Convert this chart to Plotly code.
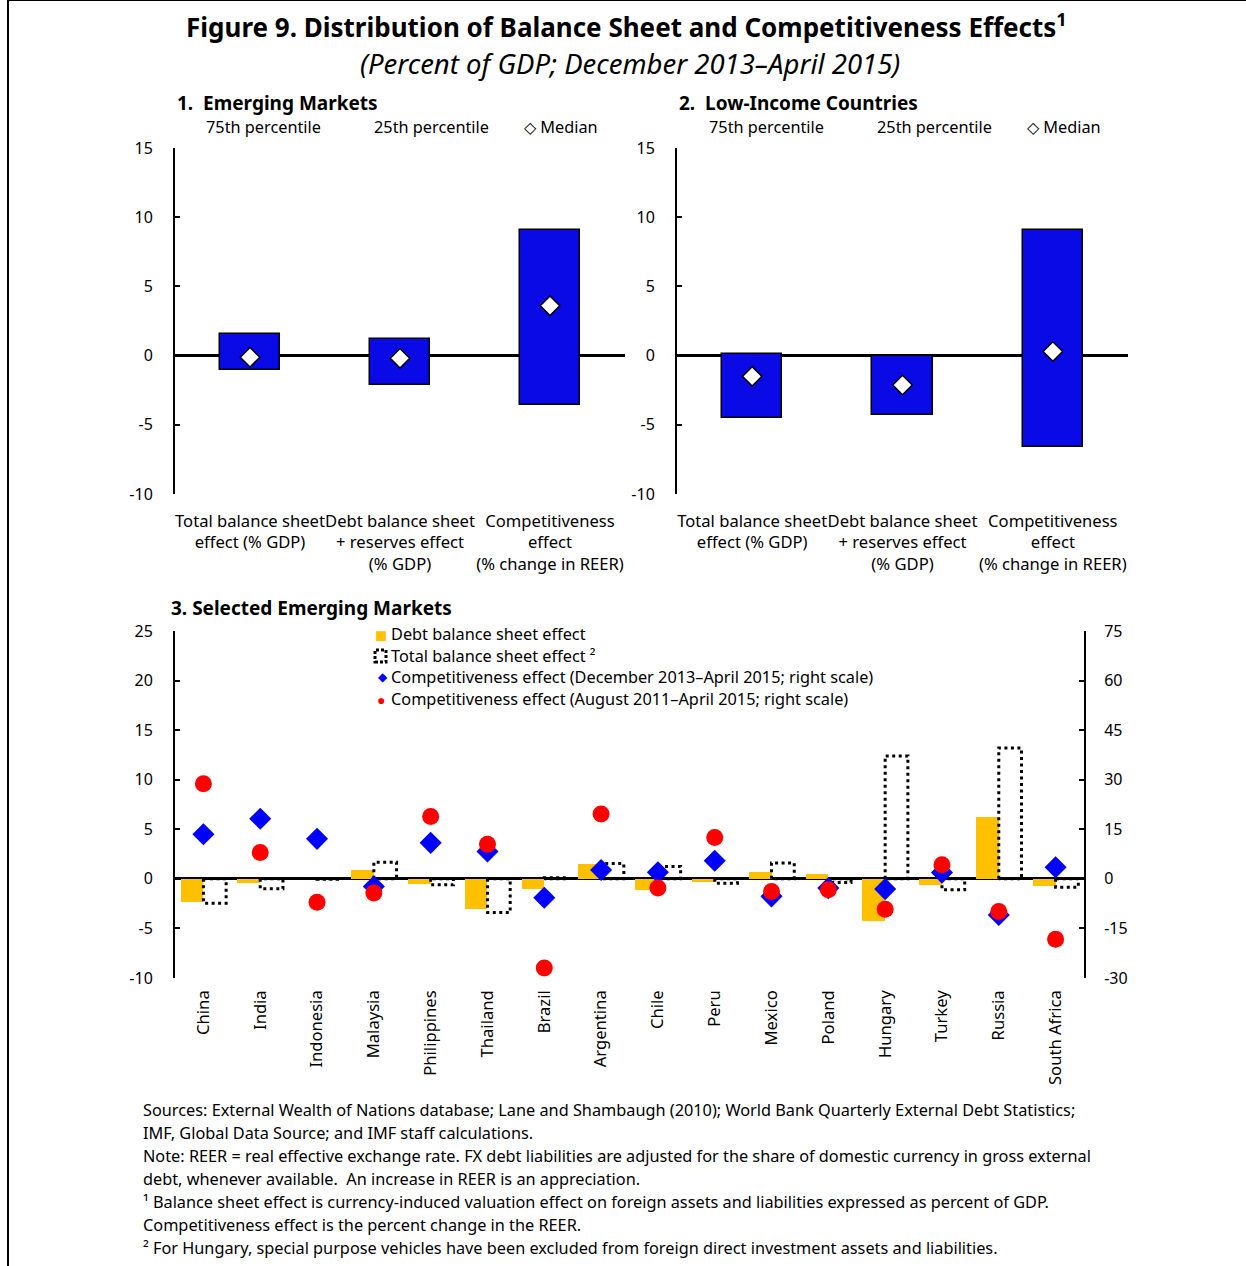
import plotly.graph_objects as go

W_PX, H_PX = 1246, 1266

# ---------------- data ----------------
top_categories = ["Total balance sheet<br>effect (% GDP)",
                  "Debt balance sheet<br>+ reserves effect<br>(% GDP)",
                  "Competitiveness<br>effect<br>(% change in REER)"]
em_p75 = [1.57, 1.23, 9.05]
em_p25 = [-1.03, -2.12, -3.59]
em_median = [-0.12, -0.19, 3.6]
lic_p75 = [0.12, 0.0, 9.05]
lic_p25 = [-4.53, -4.27, -6.6]
lic_median = [-1.5, -2.12, 0.3]
top_ticks = [-10, -5, 0, 5, 10, 15]

countries = ["China", "India", "Indonesia", "Malaysia", "Philippines", "Thailand", "Brazil",
             "Argentina", "Chile", "Peru", "Mexico", "Poland", "Hungary", "Turkey", "Russia",
             "South Africa"]
debt_effect = [-2.3, -0.37, 0.0, 0.87, -0.54, -3.0, -1.04, 1.48, -1.17, -0.27, 0.74, 0.5,
               -4.24, -0.6, 6.29, -0.7]
total_effect = [-2.45, -1.0, -0.05, 1.68, -0.6, -3.4, 0.1, 1.55, 1.25, -0.44, 1.61, -0.37,
                12.4, -1.1, 13.2, -0.84]
comp_dec13 = [13.5, 18.2, 12.1, -2.3, 10.9, 8.3, -5.7, 2.7, 2.0, 5.5, -5.3, -2.8, -3.1, 1.9,
              -10.9, 3.5]
comp_aug11 = [28.8, 8.0, -7.1, -4.3, 18.9, 10.5, -27.0, 19.6, -2.8, 12.5, -3.8, -3.3, -9.2,
              4.3, -9.9, -18.3]
left_ticks = [-10, -5, 0, 5, 10, 15, 20, 25]
right_ticks = [-30, -15, 0, 15, 30, 45, 60, 75]

FONT = "Noto Sans"
BLUE_BAR = "#0A0AE6"


def px_x(p):
    return p / W_PX


def px_y(p):
    return 1 - p / H_PX


def lbl(v):
    return str(v)


fig = go.Figure()

# ---------------- panels 1 & 2 ----------------
for k, (p75, p25, med) in enumerate([(em_p75, em_p25, em_median), (lic_p75, lic_p25, lic_median)]):
    xa = "x" if k == 0 else "x2"
    ya = "y" if k == 0 else "y2"
    fig.add_trace(go.Bar(x=top_categories, y=[a - b for a, b in zip(p75, p25)], base=p25,
                         width=0.4, marker=dict(color=BLUE_BAR, line=dict(color="black", width=1.5)),
                         xaxis=xa, yaxis=ya, showlegend=False))
    fig.add_trace(go.Scatter(x=top_categories, y=med, mode="markers",
                             marker=dict(symbol="diamond", size=15, color="white",
                                         line=dict(color="black", width=1.5)),
                             xaxis=xa, yaxis=ya, showlegend=False))

# ---------------- panel 3 ----------------
idx = list(range(len(countries)))
BW = 0.4
fig.add_trace(go.Bar(x=idx, y=debt_effect, width=BW, offset=-BW,
                     marker=dict(color="#FFC000", line=dict(width=0)),
                     xaxis="x3", yaxis="y3", showlegend=False))
rx, ry = [], []
for i, v in zip(idx, total_effect):
    rx += [i, i, i + BW, i + BW, i, None]
    ry += [0, v, v, 0, 0, None]
fig.add_trace(go.Scatter(x=rx, y=ry, mode="lines",
                         line=dict(color="black", width=3, dash="3px,3.5px"),
                         xaxis="x3", yaxis="y3", showlegend=False))
fig.add_trace(go.Scatter(x=idx, y=comp_dec13, mode="markers",
                         marker=dict(symbol="diamond", size=17, color="#0000FF"),
                         xaxis="x3", yaxis="y4", showlegend=False))
fig.add_trace(go.Scatter(x=idx, y=comp_aug11, mode="markers",
                         marker=dict(symbol="circle", size=17, color="#FF0000"),
                         xaxis="x3", yaxis="y4", showlegend=False))

# ---------------- axes ----------------
tickfont = dict(family=FONT, size=16, color="black")
yax_common = dict(range=[-10, 15], tickvals=top_ticks, ticktext=[lbl(v) for v in top_ticks],
                  showgrid=False, showline=True, linecolor="black",
                  linewidth=2, ticks="inside", ticklen=5, tickwidth=2, tickcolor="black",
                  zeroline=True, zerolinecolor="black", zerolinewidth=2.5, tickfont=tickfont,
                  ticklabelstandoff=17, fixedrange=True)
xax_top = dict(showgrid=False, showline=False, ticks="", zeroline=False, tickangle=0,
               tickfont=dict(family=FONT, size=16.6, color="black"),
               range=[-0.5, 2.5], ticklabelstandoff=15, fixedrange=True)

fig.update_layout(
    width=W_PX, height=H_PX, margin=dict(l=0, r=0, t=0, b=0, autoexpand=False),
    paper_bgcolor="white", plot_bgcolor="white", bargap=0, showlegend=False,
    font=dict(family=FONT, size=16, color="black"),
    xaxis=dict(domain=[px_x(175), px_x(625)], anchor="y", **xax_top),
    yaxis=dict(domain=[px_y(494), px_y(148)], anchor="x", **yax_common),
    xaxis2=dict(domain=[px_x(677), px_x(1128)], anchor="y2", **xax_top),
    yaxis2=dict(domain=[px_y(494), px_y(148)], anchor="x2", **yax_common),
    xaxis3=dict(domain=[px_x(175), px_x(1084)], anchor="y3", range=[-0.5, 15.5],
                tickvals=idx, ticktext=countries, tickangle=-90, showgrid=False,
                showline=False, ticks="", zeroline=False,
                tickfont=dict(family=FONT, size=16.6, color="black"),
                ticklabelstandoff=8, fixedrange=True),
    yaxis3=dict(domain=[px_y(978), px_y(631)], anchor="x3",
                **{**yax_common, "range": [-10, 25], "tickvals": left_ticks,
                   "ticktext": [lbl(v) for v in left_ticks]}),
    yaxis4=dict(overlaying="y3", side="right", anchor="x3", range=[-30, 75],
                tickvals=right_ticks, ticktext=[lbl(v) for v in right_ticks],
                showgrid=False, showline=True, linecolor="black", linewidth=2,
                ticks="inside", ticklen=5, tickwidth=2, tickcolor="black", zeroline=False,
                tickfont=tickfont, ticklabelstandoff=15, fixedrange=True),
)

# ---------------- text ----------------
ann = []


def text(x, y, s, size=16, bold=False, italic=False, xanchor="left", color="black"):
    if bold:
        s = "<b>" + s + "</b>"
    if italic:
        s = "<i>" + s + "</i>"
    ann.append(dict(x=px_x(x), y=px_y(y), xref="paper", yref="paper", text=s, showarrow=False,
                    xanchor=xanchor, yanchor="middle",
                    font=dict(family=FONT, size=size, color=color)))


text(626, 26, "Figure 9. Distribution of Balance Sheet and Competitiveness Effects<sup>1</sup>",
     size=26, bold=True, xanchor="center")
text(630, 63, "(Percent of GDP; December 2013–April 2015)", size=27.5, italic=True, xanchor="center")

text(175, 103, "1.  Emerging Markets", size=19, bold=True)
text(677, 103, "2.  Low-Income Countries", size=19, bold=True)
for off in (0, 503):
    text(204 + off, 127, "75th percentile", size=16.3)
    text(372 + off, 127, "25th percentile", size=16.3)
    text(522 + off, 127, "◇ Median", size=16.3)

text(169, 608, "3. Selected Emerging Markets", size=19, bold=True)
leg_y = [634, 656, 677, 699]
text(373, leg_y[0], "■", size=20, color="#FFC000")
text(376, leg_y[2], "◆", size=12, color="#0000FF")
text(375, leg_y[3], "●", size=14, color="#FF0000")
text(389, leg_y[0], "Debt balance sheet effect", size=16.3)
text(389, leg_y[1], "Total balance sheet effect ²", size=16.3)
text(389, leg_y[2], "Competitiveness effect (December 2013–April 2015; right scale)", size=16.3)
text(389, leg_y[3], "Competitiveness effect (August 2011–April 2015; right scale)", size=16.3)

notes = [
    "Sources: External Wealth of Nations database; Lane and Shambaugh (2010); World Bank Quarterly External Debt Statistics;",
    "IMF, Global Data Source; and IMF staff calculations.",
    "Note: REER = real effective exchange rate. FX debt liabilities are adjusted for the share of domestic currency in gross external",
    "debt, whenever available.  An increase in REER is an appreciation.",
    "¹ Balance sheet effect is currency-induced valuation effect on foreign assets and liabilities expressed as percent of GDP.",
    "Competitiveness effect is the percent change in the REER.",
    "² For Hungary, special purpose vehicles have been excluded from foreign direct investment assets and liabilities.",
]
for j, line in enumerate(notes):
    text(141, 1110 + 23 * j, line, size=16.3)

fig.update_layout(annotations=ann)

# legend swatch for dotted box + frame lines
fig.add_shape(type="rect", xref="paper", yref="paper",
              x0=px_x(375), x1=px_x(386), y0=px_y(662), y1=px_y(650),
              line=dict(color="black", width=3, dash="3px,2px"))
fig.add_shape(type="line", xref="paper", yref="paper", x0=px_x(8), x1=px_x(8), y0=0, y1=1,
              line=dict(color="black", width=2))
fig.add_shape(type="line", xref="paper", yref="paper", x0=px_x(8), x1=1, y0=1, y1=1,
              line=dict(color="black", width=2))

fig.write_html("out.html", config={"displayModeBar": False},
               post_script="document.body.style.margin='0';document.body.style.overflow='hidden';")
